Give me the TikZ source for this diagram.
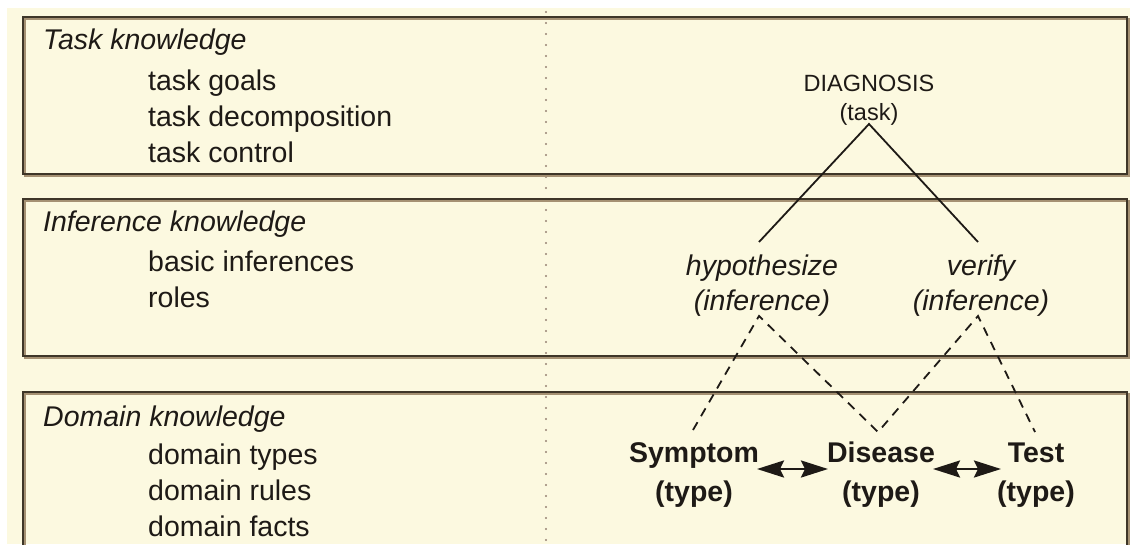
\documentclass[tikz,border=0pt]{standalone}
\usepackage{fontspec}
\setmainfont{Liberation Sans}
\usetikzlibrary{arrows.meta}
\definecolor{paper}{RGB}{252,249,224}
\definecolor{frame}{RGB}{62,54,40}
\definecolor{frameshade}{RGB}{165,145,115}
\definecolor{ink}{RGB}{30,26,22}
\definecolor{dotline}{RGB}{150,130,115}

\begin{document}
\begin{tikzpicture}[x=1pt,y=-1pt,
  every node/.style={text=ink, inner sep=0pt},
  layer/.style={draw=frame, line width=2.6pt},
  shade/.style={draw=frameshade, line width=2.2pt},
  heading/.style={anchor=mid west, font=\fontsize{28.5}{34}\selectfont\itshape},
  item/.style={anchor=mid west, font=\fontsize{28.5}{34}\selectfont},
  inf/.style={align=center, font=\fontsize{28.5}{35}\selectfont\itshape},
  dtype/.style={align=center, font=\fontsize{28.5}{39}\selectfont\bfseries},
  tasklabel/.style={align=center, font=\fontsize{23.5}{29}\selectfont},
  tasklink/.style={draw=ink, line width=1.8pt},
  rolelink/.style={draw=ink, line width=1.8pt, dash pattern=on 9pt off 7pt},
  typelink/.style={draw=ink, line width=2.6pt,
    >={Stealth[length=27pt,width=17pt,inset=4pt]}, <->}
]
% page and paper
\useasboundingbox (0,0) rectangle (1130,544);
\fill[white] (0,0) rectangle (1130,544);
\fill[paper] (7,8) rectangle (1130,544);

% separator between the two columns
\draw[dotline, line width=2.4pt, line cap=round, dash pattern=on 0pt off 11pt]
  (546,12) -- (546,544);

% the three knowledge layers
\draw[shade] (25,19) rectangle (1129,176);
\draw[layer] (23,17) rectangle (1127,174);
\draw[shade] (25,201) rectangle (1129,358);
\draw[layer] (23,199) rectangle (1127,356);
\draw[shade] (25,546) -- (25,394) -- (1129,394) -- (1129,546);
\draw[layer] (23,546) -- (23,392) -- (1127,392) -- (1127,546);

% task layer
\node[heading] (th) at (43,47) {Task knowledge};
\node[item] (t1) at (148,88) {task goals};
\node[item] (t2) at (148,124) {task decomposition};
\node[item] (t3) at (148,160) {task control};

% inference layer
\node[heading] (ih) at (43,229) {Inference knowledge};
\node[item] (i1) at (148,269) {basic inferences};
\node[item] (i2) at (148,305) {roles};

% domain layer
\node[heading] (dh) at (43,424) {Domain knowledge};
\node[item] (d1) at (148,462) {domain types};
\node[item] (d2) at (148,498) {domain rules};
\node[item] (d3) at (148,534) {domain facts};

% example: diagnosis
\node[tasklabel] (diag) at (869,100) {DIAGNOSIS\\(task)};
\node[inf] (hyp) at (762,286) {hypothesize\\(inference)};
\node[inf] (ver) at (981,286) {verify\\(inference)};
\node[dtype] (sym) at (694,475) {Symptom\\(type)};
\node[dtype] (dis) at (881,475) {Disease\\(type)};
\node[dtype] (tst) at (1036,475) {Test\\(type)};

% connection points of the links
\coordinate (diagFoot) at (869,124);
\coordinate (hypHead) at (759,242);
\coordinate (verHead) at (978,242);
\coordinate (hypFoot) at (759,316);
\coordinate (verFoot) at (978,316);
\coordinate (symHead) at (693,430);
\coordinate (disHead) at (878,432);
\coordinate (tstHead) at (1035,432);
\coordinate (symSide) at (757,469);
\coordinate (disLeft) at (828,469);
\coordinate (disRight) at (933,469);
\coordinate (tstSide) at (1001,469);

% task decomposition
\draw[tasklink] (hypHead) -- (diagFoot) -- (verHead);
% inference roles
\draw[rolelink] (symHead) -- (hypFoot) -- (disHead) -- (verFoot) -- (tstHead);
% relations between domain types
\draw[typelink] (symSide) -- (disLeft);
\draw[typelink] (disRight) -- (tstSide);
\end{tikzpicture}
\end{document}
